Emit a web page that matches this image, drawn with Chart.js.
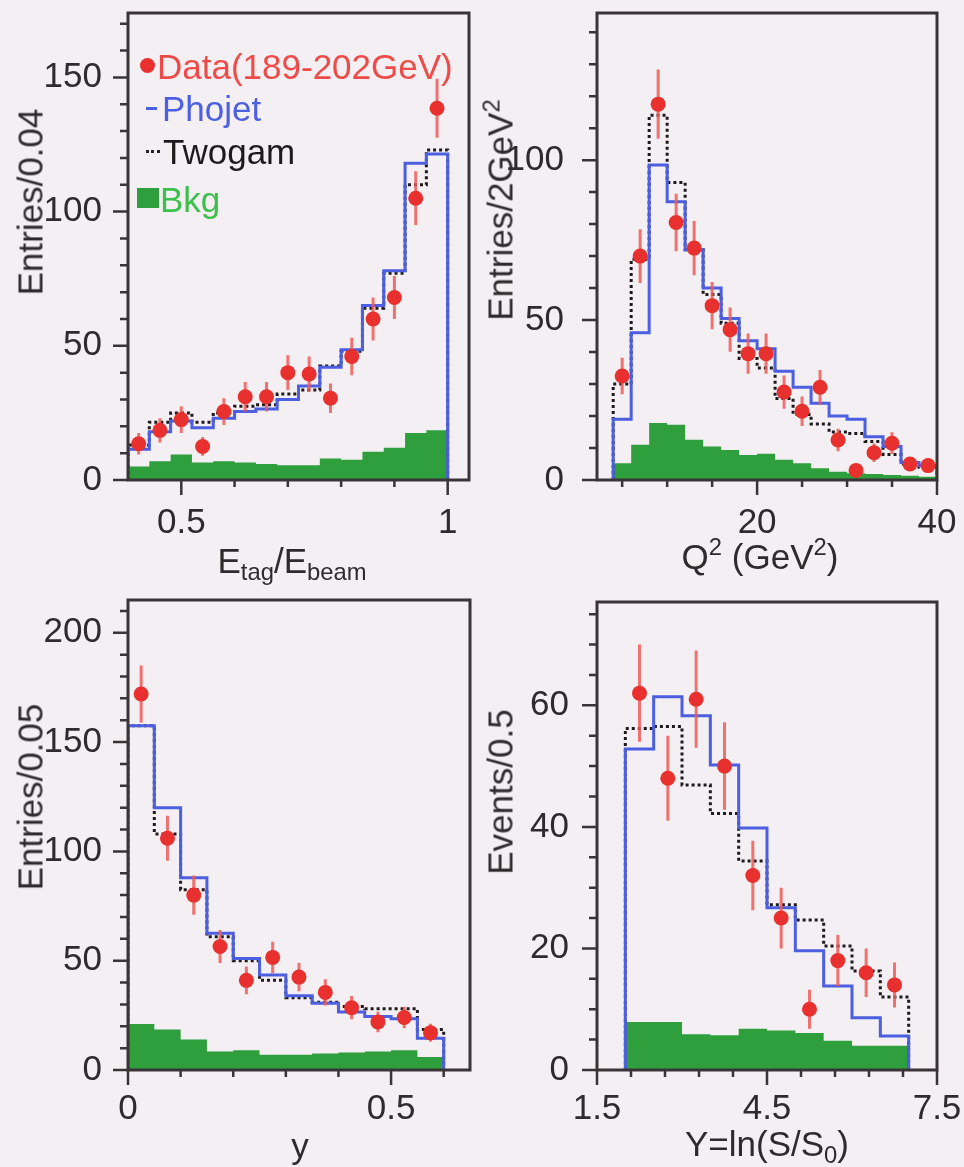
<!DOCTYPE html>
<html>
<head>
<meta charset="utf-8">
<script src="https://cdn.jsdelivr.net/npm/chart.js@4.4.1/dist/chart.umd.min.js"></script>
<style>
  body { margin: 0; width: 964px; height: 1167px; position: relative; overflow: hidden;
         background: #f3eff2; font-family: "Liberation Sans", Arial, sans-serif; color: #2f2a2c; }
  canvas { position: absolute; }
  .t { position: absolute; font-size: 35px; line-height: 1; white-space: nowrap; transform: translate(-50%, -50%); }
  .rot { transform: translate(-50%, -50%) rotate(-90deg); }
  .leg { position: absolute; font-size: 35px; line-height: 1; white-space: nowrap; transform: translateY(-50%); }
  sub { font-size: 0.68em; vertical-align: -0.32em; line-height: 0; }
  sup { font-size: 0.68em; vertical-align: 0.55em; line-height: 0; }
</style>
</head>
<body>
<canvas id="c1" width="482" height="583" style="left:0;top:0"></canvas>
<canvas id="c2" width="482" height="583" style="left:482px;top:0"></canvas>
<canvas id="c3" width="482" height="577" style="left:0;top:590px"></canvas>
<canvas id="c4" width="482" height="577" style="left:482px;top:590px"></canvas>

<!-- legend, top left panel -->
<div style="position:absolute;left:140px;top:58px;width:15px;height:15px;border-radius:50%;background:#e8302e"></div>
<div class="leg" style="left:157px;top:66px;color:#f04a48">Data(189-202GeV)</div>
<div style="position:absolute;left:146px;top:107px;width:11px;height:3px;background:#4c5fe0"></div>
<div class="leg" style="left:162px;top:108px;color:#4c5fe0">Phojet</div>
<div style="position:absolute;left:146px;top:150px;width:14px;height:0;border-top:3px dotted #222"></div>
<div class="leg" style="left:163px;top:151px;color:#1e1a1c">Twogam</div>
<div style="position:absolute;left:137px;top:188px;width:22px;height:20px;background:#2f9e3c"></div>
<div class="leg" style="left:160px;top:199px;color:#3cbf4c">Bkg</div>

<!-- axis titles -->
<div class="t rot" style="left:30px;top:202px">Entries/0.04</div>
<div class="t" style="left:292px;top:560px">E<sub>tag</sub>/E<sub>beam</sub></div>
<div class="t rot" style="left:500px;top:210px">Entries/2GeV<sup>2</sup></div>
<div class="t" style="left:760px;top:556px">Q<sup>2</sup> (GeV<sup>2</sup>)</div>
<div class="t rot" style="left:30px;top:797px">Entries/0.05</div>
<div class="t" style="left:300px;top:1145px">y</div>
<div class="t rot" style="left:500px;top:792px">Events/0.5</div>
<div class="t" style="left:767px;top:1143px">Y=ln(S/S<sub>0</sub>)</div>

<script>
// ---- E_tag / E_beam ----
const etagEdges   = [0.40, 0.44, 0.48, 0.52, 0.56, 0.60, 0.64, 0.68, 0.72, 0.76, 0.80, 0.84, 0.88, 0.92, 0.96, 1.00];
const etagCentres = [0.42, 0.46, 0.50, 0.54, 0.58, 0.62, 0.66, 0.70, 0.74, 0.78, 0.82, 0.86, 0.90, 0.94, 0.98];
const etagData    = [13.5, 18.5, 22.5, 12.5, 25.5, 31, 31, 40, 39.5, 30.5, 46, 60, 68, 105, 138.5];
const etagErr     = [4, 4.5, 5, 3.5, 5, 5.5, 5.5, 6.5, 6.5, 5.5, 7, 8, 8, 10, 11];
const etagPhojet  = [11.5, 18, 22, 19.5, 23, 25.5, 26.5, 30, 35, 42, 48.5, 65, 78, 118, 121.5];
const etagTwogam  = [13, 21.5, 25, 21.5, 25, 27.5, 28, 32, 33.5, 42.5, 48, 64, 77, 110, 123];
const etagBkg     = [5, 7, 9.5, 6.5, 7, 6.5, 6, 5.5, 5.5, 8, 7.5, 10.5, 12, 17.5, 18.5];

// ---- Q^2 ----
const q2Edges   = [4, 6, 8, 10, 12, 14, 16, 18, 20, 22, 24, 26, 28, 30, 32, 34, 36, 38, 40];
const q2Centres = [5, 7, 9, 11, 13, 15, 17, 19, 21, 23, 25, 27, 29, 31, 33, 35, 37, 39];
const q2Data    = [32.5, 70, 117.5, 80.5, 72.5, 54.5, 47, 39.5, 39.5, 27.5, 21.5, 29, 12.5, 3, 8.5, 11.5, 5, 4.5];
const q2Err     = [5.7, 8.4, 10.8, 9, 8.5, 7.4, 6.9, 6.3, 6.3, 5.2, 4.6, 5.4, 3.5, 1.7, 2.9, 3.4, 2.2, 2.1];
const q2Phojet  = [19, 46, 98.5, 87, 72, 60, 50.5, 43.5, 41, 34, 29, 24, 20, 19, 13.5, 10.5, 5.5, 4.5];
const q2Twogam  = [30, 69, 114, 93, 72, 58, 49, 38, 35, 25.5, 20.5, 17.5, 15, 14.5, 12, 8, 5, 4];
const q2Bkg     = [5.2, 11, 17.8, 17.3, 12.6, 10.5, 9.4, 7.8, 8.2, 6.3, 5.2, 3.7, 2.6, 2.1, 1.9, 1.6, 1.3, 1];

// ---- y ----
const yEdges   = [0, 0.05, 0.10, 0.15, 0.20, 0.25, 0.30, 0.35, 0.40, 0.45, 0.50, 0.55, 0.60];
const yCentres = [0.025, 0.075, 0.125, 0.175, 0.225, 0.275, 0.325, 0.375, 0.425, 0.475, 0.525, 0.575];
const yData    = [172, 106, 80, 56.5, 41, 51.5, 42.5, 35.5, 28.5, 22, 24, 17];
const yErr     = [13, 10.3, 9, 7.5, 6.4, 7.2, 6.5, 6, 5.3, 4.7, 4.9, 4.1];
const yPhojet  = [157.5, 120, 88, 62.5, 51, 43.5, 34, 30.5, 26.5, 24.5, 23.5, 14.5];
const yTwogam  = [157.5, 108, 82.5, 61, 50, 41, 33, 31, 29, 28, 28, 18.5];
const yBkg     = [21, 18.5, 14, 8.5, 9, 7, 7, 7.5, 8, 8.5, 9, 6];

// ---- Y = ln(S/S0) ----
const bigYEdges   = [2.0, 2.5, 3.0, 3.5, 4.0, 4.5, 5.0, 5.5, 6.0, 6.5, 7.0];
const bigYCentres = [2.25, 2.75, 3.25, 3.75, 4.25, 4.75, 5.25, 5.75, 6.25, 6.75];
const bigYData    = [62, 48, 61, 50, 32, 25, 10, 18, 16, 14];
const bigYErr     = [8, 7, 8, 7.2, 5.7, 5, 3.2, 4.2, 4, 3.7];
const bigYPhojet  = [52.8, 61.4, 58.3, 50.2, 39.8, 26.7, 19.6, 13.8, 8.6, 5.6];
const bigYTwogam  = [56.2, 56.5, 46.9, 42.2, 34.4, 27.2, 24.7, 20.4, 16.3, 12];
const bigYBkg     = [7.9, 7.9, 5.9, 5.7, 6.8, 6.5, 6.1, 4.8, 4, 4];

// tick labels
const etagXLabels = [0.5, 1];
const q2XLabels   = [20, 40];
const yXLabels    = [0, 0.5];
const bigYXLabels = [1.5, 4.5, 7.5];
const etagYLabels = [0, 50, 100, 150];
const q2YLabels   = [0, 50, 100];
const yYLabels    = [0, 50, 100, 150, 200];
const bigYYLabels = [0, 20, 40, 60];

const RED = '#e8302e', ERR = 'rgba(238,90,88,0.85)', BLUE = '#4c5fe0', DOTS = '#1e1a1c', GREEN = '#2f9e3c', FRAME = '#3a3436';

Chart.defaults.font.family = '"Liberation Sans", Arial, sans-serif';
Chart.defaults.font.size = 35;
Chart.defaults.color = '#2f2a2c';

function range(a, b, step) {
    const out = [];
    for (let v = a; v <= b + 1e-9; v += step) out.push(Math.round(v * 1000) / 1000);
    return out;
}

function histPoints(edges, vals) {
    const pts = [{ x: edges[0], y: 0 }, { x: edges[0], y: vals[0] }];
    for (let i = 1; i < vals.length; i++) pts.push({ x: edges[i], y: vals[i] });
    pts.push({ x: edges[edges.length - 1], y: vals[vals.length - 1] });
    pts.push({ x: edges[edges.length - 1], y: 0 });
    return pts;
}

// no label overflow padding: the plot frame sits where we put it
function noPad(s) {
    s.paddingLeft = 0; s.paddingRight = 0; s.paddingTop = 0; s.paddingBottom = 0;
}

const errorBars = {
    id: 'errorBars',
    beforeDatasetDraw(chart, args) {
        const ds = chart.data.datasets[args.index];
        if (!ds.errors) return;
        const { ctx, scales: { x, y } } = chart;
        ctx.save();
        ctx.strokeStyle = ERR;
        ctx.lineWidth = 3;
        ctx.beginPath();
        ds.data.forEach((p, i) => {
            const px = x.getPixelForValue(p.x);
            ctx.moveTo(px, y.getPixelForValue(p.y - ds.errors[i]));
            ctx.lineTo(px, y.getPixelForValue(p.y + ds.errors[i]));
        });
        ctx.stroke();
        ctx.restore();
    }
};

// ROOT style frame with outward ticks
const frame = {
    id: 'frame',
    afterDraw(chart, args, o) {
        const { ctx, chartArea: a, scales: { x, y } } = chart;
        ctx.save();
        ctx.strokeStyle = FRAME;
        ctx.lineWidth = 2.5;
        ctx.beginPath();
        const xt = (vals, len) => vals.forEach(v => {
            const px = x.getPixelForValue(v);
            ctx.moveTo(px, a.bottom); ctx.lineTo(px, a.bottom + len);
        });
        const yt = (vals, len) => vals.forEach(v => {
            const py = y.getPixelForValue(v);
            ctx.moveTo(a.left, py); ctx.lineTo(a.left - len, py);
        });
        xt(o.xMajor, 15); xt(o.xMinor, 7);
        yt(o.yMajor, 15); yt(o.yMinor, 8);
        ctx.stroke();
        ctx.lineWidth = 3;
        ctx.strokeRect(a.left, a.top, a.right - a.left, a.bottom - a.top);
        ctx.restore();
    }
};

function makePanel(id, p) {
    new Chart(document.getElementById(id), {
        type: 'line',
        data: {
            datasets: [
                {
                    type: 'scatter',
                    data: p.centres.map((c, i) => ({ x: c, y: p.data[i] })),
                    errors: p.err,
                    pointRadius: 7.5,
                    pointBackgroundColor: RED,
                    pointBorderWidth: 0,
                    showLine: false
                },
                { data: histPoints(p.edges, p.phojet), borderColor: BLUE, borderWidth: 3, stepped: true, pointRadius: 0, fill: false },
                { data: histPoints(p.edges, p.twogam), borderColor: DOTS, borderWidth: 3, borderDash: [3, 3], stepped: true, pointRadius: 0, fill: false },
                { data: histPoints(p.edges, p.bkg), borderWidth: 0, borderColor: GREEN, backgroundColor: GREEN, stepped: true, pointRadius: 0, fill: 'origin' }
            ]
        },
        options: {
            responsive: false,
            animation: false,
            events: [],
            layout: { padding: { left: 0, top: p.top, right: p.right, bottom: 0 } },
            plugins: {
                legend: { display: false },
                tooltip: { enabled: false },
                frame: p.ticks
            },
            scales: {
                x: {
                    type: 'linear', min: p.xMin, max: p.xMax,
                    grid: { display: false }, border: { display: false },
                    ticks: { padding: p.xPad, maxRotation: 0, autoSkip: false, callback: v => String(v) },
                    afterBuildTicks: s => { s.ticks = p.xLabels.map(v => ({ value: v })); },
                    afterFit: s => { s.height = p.xHeight; noPad(s); }
                },
                y: {
                    type: 'linear', min: 0, max: p.yMax,
                    grid: { display: false }, border: { display: false },
                    ticks: { padding: p.yPad, autoSkip: false, callback: v => String(v) },
                    afterBuildTicks: s => { s.ticks = p.yLabels.map(v => ({ value: v })); },
                    afterFit: s => { s.width = p.yWidth; noPad(s); }
                }
            }
        },
        plugins: [errorBars, frame]
    });
}

makePanel('c1', {
    edges: etagEdges, centres: etagCentres, data: etagData, err: etagErr,
    phojet: etagPhojet, twogam: etagTwogam, bkg: etagBkg,
    xMin: 0.4, xMax: 1.04, yMax: 174, xLabels: etagXLabels, yLabels: etagYLabels,
    top: 13, right: 13, xHeight: 103, yWidth: 128, yPad: 18, xPad: 14,
    ticks: { xMajor: etagXLabels, xMinor: [0.6, 0.7, 0.8, 0.9], yMajor: etagYLabels, yMinor: range(10, 170, 10) }
});

makePanel('c2', {
    edges: q2Edges, centres: q2Centres, data: q2Data, err: q2Err,
    phojet: q2Phojet, twogam: q2Twogam, bkg: q2Bkg,
    xMin: 2.2, xMax: 40, yMax: 146, xLabels: q2XLabels, yLabels: q2YLabels,
    top: 13, right: 27, xHeight: 103, yWidth: 115, yPad: 25, xPad: 14,
    ticks: { xMajor: q2XLabels, xMinor: [5, 10, 15, 25, 30, 35], yMajor: q2YLabels, yMinor: range(10, 140, 10) }
});

makePanel('c3', {
    edges: yEdges, centres: yCentres, data: yData, err: yErr,
    phojet: yPhojet, twogam: yTwogam, bkg: yBkg,
    xMin: 0, xMax: 0.65, yMax: 215, xLabels: yXLabels, yLabels: yYLabels,
    top: 10, right: 12, xHeight: 97, yWidth: 128, yPad: 18, xPad: 10,
    ticks: { xMajor: yXLabels, xMinor: [0.1, 0.2, 0.3, 0.4, 0.6], yMajor: yYLabels, yMinor: range(10, 210, 10) }
});

makePanel('c4', {
    edges: bigYEdges, centres: bigYCentres, data: bigYData, err: bigYErr,
    phojet: bigYPhojet, twogam: bigYTwogam, bkg: bigYBkg,
    xMin: 1.5, xMax: 7.5, yMax: 77, xLabels: bigYXLabels, yLabels: bigYYLabels,
    top: 12, right: 27, xHeight: 97, yWidth: 115, yPad: 20, xPad: 10,
    ticks: { xMajor: bigYXLabels, xMinor: [2.1, 2.7, 3.3, 3.9, 5.1, 5.7, 6.3, 6.9], yMajor: bigYYLabels, yMinor: range(5, 75, 5) }
});
</script>
</body>
</html>
